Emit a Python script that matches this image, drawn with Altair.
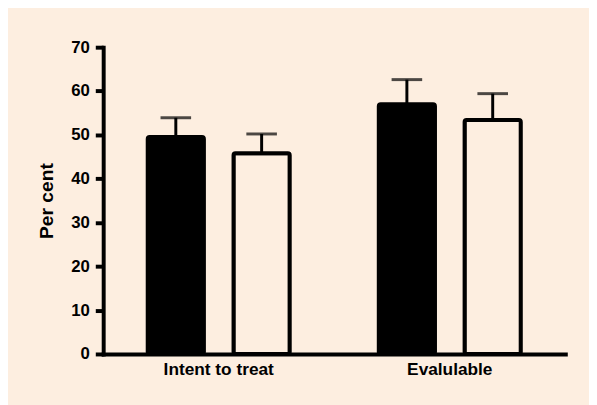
import altair as alt
import pandas as pd

groups = ["Intent to treat", "Intent to treat", "Evalulable", "Evalulable"]
series = ["A", "B", "A", "B"]
values = [49.5, 45.8, 57.0, 53.4]
err_top = [53.9, 50.2, 62.6, 59.4]
y_ticks = [0, 10, 20, 30, 40, 50, 60, 70]

bg = "#fdeee0"
df = pd.DataFrame({"group": groups, "series": series, "value": values, "err": err_top})

x = alt.X("group:N", sort=["Intent to treat", "Evalulable"],
          scale=alt.Scale(paddingInner=0, paddingOuter=0),
          axis=alt.Axis(title=None, labelAngle=0, ticks=False, domainWidth=4, domainColor="black",
                        domainCap="square", labelFont="Liberation Sans", labelFontWeight="bold",
                        labelFontSize=17.5, labelColor="black", labelPadding=7))
xo = alt.XOffset("series:N", scale=alt.Scale(paddingInner=0.3448, paddingOuter=0.5187))

y = alt.Y("value:Q", scale=alt.Scale(domain=[0, 70], nice=False),
          axis=alt.Axis(title="Per cent", values=y_ticks, grid=False, domainWidth=4, domainColor="black",
                        domainCap="square", tickWidth=4, tickSize=8, tickColor="black",
                        labelFont="Liberation Sans", labelFontWeight="bold", labelFontSize=17,
                        labelColor="black", labelPadding=6, titleFont="Liberation Sans",
                        titleFontWeight="bold", titleFontSize=19.5, titleColor="black", titlePadding=14))

bars = alt.Chart(df).mark_bar(stroke="black", strokeWidth=4, cornerRadius=2).encode(
    x=x, xOffset=xo, y=y,
    fill=alt.Fill("series:N", scale=alt.Scale(domain=["A", "B"], range=["black", bg]), legend=None),
)
err_line = alt.Chart(df).mark_rule(color="black", strokeWidth=3).encode(
    x=x, xOffset=xo, y="value:Q", y2="err:Q")
err_cap = alt.Chart(df).mark_tick(color="black", thickness=3, size=31).encode(
    x=x, xOffset=xo, y="err:Q")

chart = alt.layer(bars, err_line, err_cap).properties(
    width=468.5, height=311,
    autosize=alt.AutoSizeParams(type="none"),
    padding={"left": 96.5, "top": 37, "right": 24, "bottom": 49},
    background=bg,
).configure_view(stroke=None)

chart.save("out.html", embed_options={"renderer": "svg", "actions": False})
